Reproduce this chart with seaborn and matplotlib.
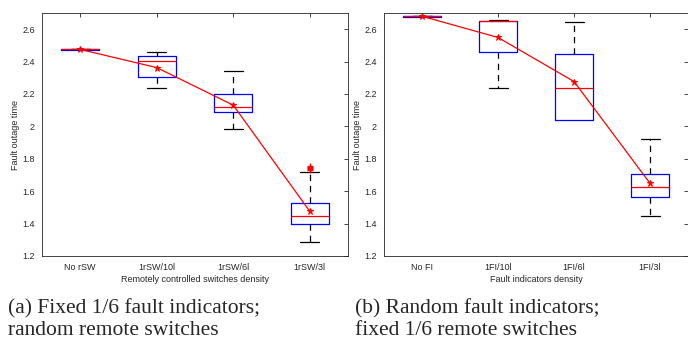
import matplotlib.pyplot as plt
import matplotlib.ticker as mticker
import seaborn as sns

# Data (box summary stats per density level)
cats_a = ['No rSW', '1rSW/10l', '1rSW/6l', '1rSW/3l']
whislo_a = [2.475, 2.240, 1.982, 1.289]
q1_a = [2.473, 2.306, 2.089, 1.396]
med_a = [2.475, 2.402, 2.122, 1.445]
q3_a = [2.477, 2.435, 2.201, 1.527]
whishi_a = [2.475, 2.458, 2.339, 1.717]
mean_a = [2.475, 2.363, 2.131, 1.476]
fliers_a = [[], [], [], [1.733, 1.739, 1.745, 1.751, 1.756]]

cats_b = ['No FI', '1FI/10l', '1FI/6l', '1FI/3l']
whislo_b = [2.680, 2.240, 2.040, 1.445]
q1_b = [2.678, 2.458, 2.040, 1.564]
med_b = [2.680, 2.650, 2.236, 1.624]
q3_b = [2.682, 2.650, 2.448, 1.709]
whishi_b = [2.680, 2.654, 2.643, 1.921]
mean_b = [2.680, 2.549, 2.277, 1.649]
fliers_b = [[], [], [], []]

xlabel_a = 'Remotely controlled switches density'
xlabel_b = 'Fault indicators density'
caption_a = '(a) Fixed 1/6 fault indicators;\nrandom remote switches'
caption_b = '(b) Random fault indicators;\nfixed 1/6 remote switches'

sns.set_style('white')
plt.rcParams['font.family'] = ['Liberation Sans', 'DejaVu Sans']

fig = plt.figure(figsize=(6.88, 3.43), dpi=100)
ax_a = fig.add_axes([42 / 688, 87 / 343, 306 / 688, 243 / 343])
ax_b = fig.add_axes([384 / 688, 87 / 343, 304 / 688, 243 / 343])


def draw_panel(ax, cats, wlo, q1, med, q3, whi, means, fliers, xlabel):
    stats = []
    for i, c in enumerate(cats):
        stats.append(dict(label=c, whislo=wlo[i], q1=q1[i], med=med[i],
                          q3=q3[i], whishi=whi[i], fliers=fliers[i]))
    parts = ax.bxp(stats, positions=range(len(cats)), widths=0.5,
                   boxprops=dict(color='blue', linewidth=0.9),
                   medianprops=dict(color='red', linewidth=0.9),
                   whiskerprops=dict(color='black', linewidth=0.9,
                                     linestyle=(0, (5, 4))),
                   capprops=dict(color='black', linewidth=0.9),
                   flierprops=dict(marker='+', markeredgecolor='red',
                                   markersize=4, markeredgewidth=0.9),
                   capwidths=0.25, manage_ticks=False)
    # no cap when the lower whisker collapses onto the box
    for i in range(len(cats)):
        if wlo[i] >= q1[i] and q3[i] - q1[i] > 0.05:
            parts['caps'][2 * i].set_visible(False)
    sns.pointplot(x=cats, y=means, color='red', markers='*', ax=ax,
                  linewidth=0.9, markersize=5, errorbar=None)

    ax.set_xlim(-0.5, len(cats) - 0.5)
    ax.set_ylim(1.2, 2.7)
    ax.set_xticks(range(len(cats)))
    ax.set_xticklabels(cats)
    ax.yaxis.set_major_locator(mticker.MultipleLocator(0.2))
    ax.yaxis.set_major_formatter(mticker.FormatStrFormatter('%g'))
    ax.tick_params(direction='in', length=3, width=0.6, labelsize=6.5,
                   colors='#262626', top=True, right=True, pad=5)
    for s in ax.spines.values():
        s.set_color('#262626')
        s.set_linewidth(0.6)
    ax.set_xlabel(xlabel, fontsize=6.5, color='#262626', labelpad=2)
    ax.set_ylabel('Fault outage time', fontsize=6.5, color='#262626',
                  labelpad=2)


draw_panel(ax_a, cats_a, whislo_a, q1_a, med_a, q3_a, whishi_a, mean_a,
           fliers_a, xlabel_a)
draw_panel(ax_b, cats_b, whislo_b, q1_b, med_b, q3_b, whishi_b, mean_b,
           fliers_b, xlabel_b)

fig.text(8 / 688, 1 - 299 / 343, caption_a, family='Liberation Serif',
         fontsize=15.5, va='top', linespacing=1.15)
fig.text(355 / 688, 1 - 299 / 343, caption_b, family='Liberation Serif',
         fontsize=15.5, va='top', linespacing=1.15)

fig.savefig('out.png', dpi=100)
